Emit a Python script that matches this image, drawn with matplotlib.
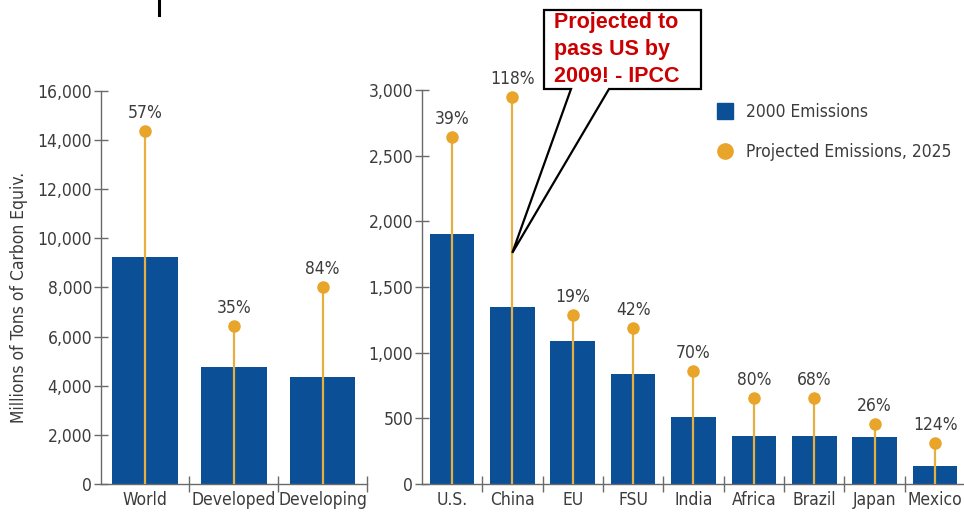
import matplotlib
matplotlib.use("Agg")
import matplotlib.pyplot as plt
from matplotlib import font_manager
from matplotlib.lines import Line2D
from matplotlib.patches import Polygon

# ---------------------- Data ----------------------

group_names = ["World", "Developed", "Developing"]
group_2000 = [9220, 4770, 4370]
group_2025 = [14360, 6430, 8030]
group_growth = ["57%", "35%", "84%"]

country_names = ["U.S.", "China", "EU", "FSU", "India", "Africa", "Brazil", "Japan", "Mexico"]
country_2000 = [1900, 1350, 1090, 837, 508, 368, 368, 360, 139]
country_2025 = [2640, 2950, 1287, 1190, 858, 657, 657, 459, 310]
country_growth = ["39%", "118%", "19%", "42%", "70%", "80%", "68%", "26%", "124%"]

BAR_BLUE = "#0b4f96"
GOLD = "#e8a52a"
STEM = "#e6b040"
AXIS_GRAY = "#6a6a6a"
TEXT_GRAY = "#3c3c3c"


def pick_narrow_font():
    # prefer a condensed sans face; fall back to Liberation Sans
    for entry in font_manager.fontManager.ttflist:
        name = entry.name.lower()
        narrow = ("narrow" in name or "condensed" in name
                  or str(entry.stretch) in ("condensed", "semi-condensed", "500", "600"))
        if narrow and "sans" in name and entry.style == "normal" and entry.weight in (400, "normal", "regular"):
            return entry.name, entry.stretch, True
    return "Liberation Sans", "normal", False


FONT_NAME, FONT_STRETCH, IS_NARROW = pick_narrow_font()
BASE_SIZE = 12.5 if IS_NARROW else 11
plt.rcParams["font.family"] = [FONT_NAME, "DejaVu Sans"]
plt.rcParams["font.stretch"] = FONT_STRETCH

W, H = 964, 516
fig = plt.figure(figsize=(W / 100, H / 100), dpi=100)


def px(x, y):
    # pixel position (from the top-left corner) to figure fraction
    return x / W, 1 - y / H


def style_axis(ax, n, top, step):
    ax.set_xlim(-0.5, n - 0.5)
    ax.set_ylim(0, top)
    ax.set_yticks(range(0, top + 1, step))
    ax.yaxis.set_major_formatter(matplotlib.ticker.StrMethodFormatter("{x:,.0f}"))
    for side in ("top", "right"):
        ax.spines[side].set_visible(False)
    for side in ("left", "bottom"):
        ax.spines[side].set_color(AXIS_GRAY)
        ax.spines[side].set_linewidth(1.0)
    ax.tick_params(axis="y", direction="inout", length=10, width=1.0,
                   color=AXIS_GRAY, labelsize=BASE_SIZE, labelcolor=TEXT_GRAY, pad=1)
    ax.tick_params(axis="x", which="major", length=0, labelsize=BASE_SIZE,
                   labelcolor=TEXT_GRAY, pad=5)
    ax.set_xticks([i + 0.5 for i in range(n - 1)] + ([n - 0.5] if n == 3 else []),
                  minor=True)
    ax.tick_params(axis="x", which="minor", direction="inout", length=12,
                   width=1.0, color=AXIS_GRAY)


def draw_group(ax, names, base, proj, growth):
    pos = list(range(len(names)))
    ax.bar(pos, base, width=0.74, color=BAR_BLUE, zorder=2)
    ax.vlines(pos, 0, proj, color=STEM, lw=1.6, zorder=3)
    ax.plot(pos, proj, "o", color=GOLD, ms=8, zorder=4)
    for x, y, txt in zip(pos, proj, growth):
        ax.annotate(txt, (x, y), xytext=(0, 13), textcoords="offset points",
                    ha="center", va="center", fontsize=BASE_SIZE, color=TEXT_GRAY)
    ax.set_xticks(pos)
    ax.set_xticklabels(names)


# ---------------------- Regional totals ----------------------

ax1 = fig.add_axes([100.5 / W, 32 / H, 266.5 / W, 393.3 / H])
style_axis(ax1, 3, 16000, 2000)
draw_group(ax1, group_names, group_2000, group_2025, group_growth)
ax1.set_ylabel("Millions of Tons of Carbon Equiv.", fontsize=BASE_SIZE, color=TEXT_GRAY)
ax1.yaxis.set_label_coords(-0.272, 0.475)

# ---------------------- Country breakdown ----------------------

ax2 = fig.add_axes([421.7 / W, 32 / H, 543.6 / W, 394 / H])
style_axis(ax2, 9, 3000, 500)
draw_group(ax2, country_names, country_2000, country_2025, country_growth)

handles = [
    Line2D([], [], marker="s", ls="none", color=BAR_BLUE, ms=12),
    Line2D([], [], marker="o", ls="none", color=GOLD, ms=11),
]
ax2.legend(handles, ["2000 Emissions", "Projected Emissions, 2025"],
           loc="upper left", bbox_to_anchor=px(708, 96), bbox_transform=fig.transFigure,
           frameon=False, fontsize=BASE_SIZE, labelspacing=1.25, handletextpad=0.6,
           handlelength=1.2, borderaxespad=0, labelcolor=TEXT_GRAY)

# ---------------------- Callout ----------------------

tip = fig.transFigure.inverted().transform(ax2.transData.transform((1, 1760)))
outline = [px(544, 10), px(701, 10), px(701, 89), px(609, 89), tuple(tip),
           px(571, 89), px(544, 89)]
fig.patches.append(Polygon(outline, closed=True, transform=fig.transFigure,
                           facecolor="white", edgecolor="black", lw=1.6, zorder=5))
for line, base_y in zip(["Projected to", "pass US by", "2009! - IPCC"], [27.7, 55, 82.3]):
    fig.text(*px(554.5, base_y), line, family="Liberation Sans", stretch="normal",
             weight="bold", fontsize=15.5, color="#cc0000", va="baseline", ha="left",
             zorder=6)

fig.add_artist(Line2D([159 / W, 159 / W], [1, 1 - 15 / H], color="black", lw=2.2))

fig.savefig("out.png", dpi=100)
